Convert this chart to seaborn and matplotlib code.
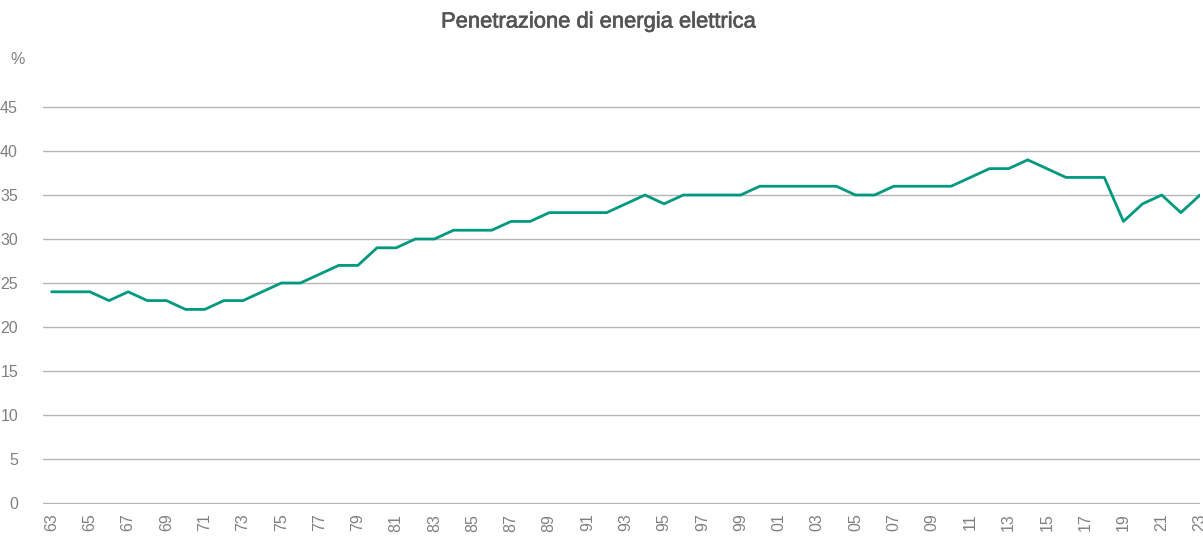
import pandas as pd
import matplotlib.pyplot as plt
import matplotlib.patheffects as pe
import seaborn as sns

years = list(range(1963, 2024))
penetration = [24, 24, 24, 23, 24, 23, 23, 22, 22, 23,
               23, 24, 25, 25, 26, 27, 27, 29, 29, 30,
               30, 31, 31, 31, 32, 32, 33, 33, 33, 33,
               34, 35, 34, 35, 35, 35, 35, 36, 36, 36,
               36, 36, 35, 35, 36, 36, 36, 36, 37, 38,
               38, 39, 38, 37, 37, 37, 32, 34, 35, 33,
               35]
tick_years = list(range(1963, 2024, 2))
tick_labels = [f"{y % 100:02d}" for y in tick_years]

df = pd.DataFrame({"anno": years, "valore": penetration})

sns.set_style("white")
plt.rcParams['font.family'] = ['Liberation Sans', 'DejaVu Sans']

fig = plt.figure(figsize=(12.03, 5.39), dpi=100)
ax = fig.add_axes([43 / 1203, 1 - 504 / 539, 1 - 43 / 1203 - 3 / 1203, (504 - 106) / 539])

sns.lineplot(data=df, x="anno", y="valore", color="#00997F", linewidth=2.0, ax=ax)

# a hair of room so the 0 and 45 gridlines are not clipped
ax.set_ylim(-0.12, 45.12)
ax.set_xlim(1962.55, 2023)
ax.set_yticks(range(0, 46, 5))
ax.yaxis.grid(True, color="#b5b5b5", linewidth=1.0)
ax.set_axisbelow(True)
ax.set_xticks(tick_years)
ax.set_xticklabels(tick_labels, rotation=90)
ax.tick_params(axis="both", length=0, labelsize=11.5, labelcolor="#808080")
ax.tick_params(axis="y", pad=18)
ax.tick_params(axis="x", pad=7)
for s in ax.spines.values():
    s.set_visible(False)
ax.set_xlabel("")
ax.set_ylabel("")

fig.text(10 / 1203, 1 - 59 / 539, "%", fontsize=11.5, color="#808080", va="center")
fig.text(598 / 1203, 1 - 22 / 539, "Penetrazione di energia elettrica",
         fontsize=15.8, color="#555555", ha="center", va="center",
         path_effects=[pe.withStroke(linewidth=0.5, foreground="#555555")])

fig.savefig("out.png", dpi=100)
